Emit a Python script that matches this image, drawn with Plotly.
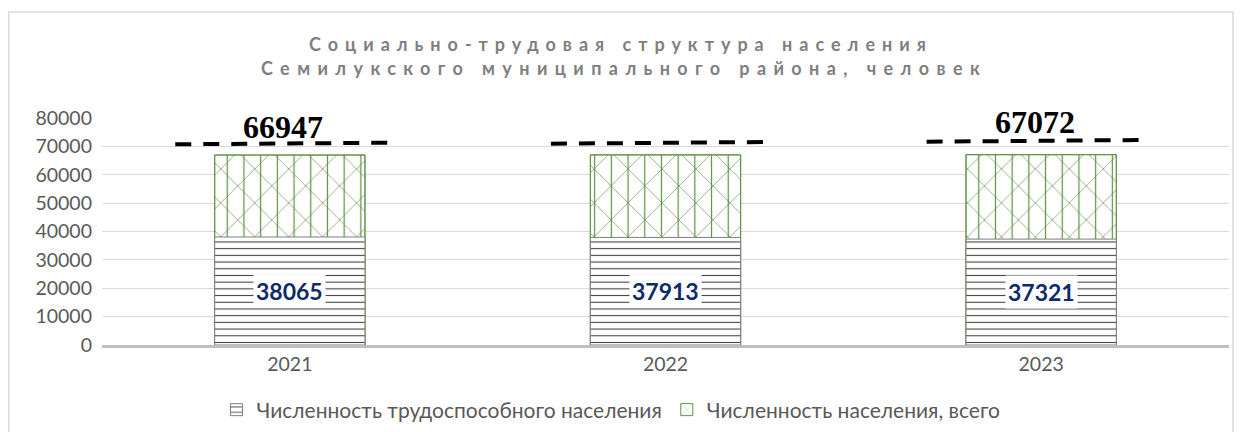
import plotly.graph_objects as go

years = ["2021", "2022", "2023"]
working_age = [38065, 37913, 37321]
total_pop = [66947, 67000, 67072]
total_labels = ["66947", "", "67072"]

# the page body adds an 8px margin, so the figure is drawn 8px in
OFF = 8
W, H = 1243 - OFF, 432 - OFF
def px_x(p):
    return (p - OFF) / W
def px_y(p):
    return 1 - (p - OFF) / H

FONT = "Lato"
GREEN = "#5F9346"
GRAY_TXT = "#595959"

fig = go.Figure()

fig.add_trace(go.Bar(
    x=years, y=total_pop, name="Численность населения, всего",
    width=0.4, legendrank=2,
    marker=dict(color="white", line=dict(color=GREEN, width=1),
                pattern=dict(shape="x", fgcolor=GREEN, bgcolor="white",
                             size=24, solidity=0.055, fillmode="replace")),
    hoverinfo="skip",
))
fig.add_trace(go.Bar(
    x=years, y=total_pop, name="_v", showlegend=False,
    width=0.4,
    marker=dict(color="rgba(0,0,0,0)", line=dict(color=GREEN, width=1),
                pattern=dict(shape="|", fgcolor=GREEN, bgcolor="rgba(0,0,0,0)",
                             size=16.7, solidity=0.075, fillmode="replace")),
    hoverinfo="skip",
))
fig.add_trace(go.Bar(
    x=years, y=working_age, name="Численность трудоспособного населения",
    width=0.4, legendrank=1,
    marker=dict(color="white", line=dict(color="#7f7f7f", width=1),
                pattern=dict(shape="-", fgcolor="#404040", bgcolor="white",
                             size=6.7, solidity=0.16, fillmode="replace")),
    hoverinfo="skip",
))

# value labels inside the working-age bars
for i, v in enumerate(working_age):
    fig.add_annotation(x=i, y=v / 2, xref="x", yref="y", text=str(v),
                       showarrow=False, bgcolor="white", borderpad=2,
                       font=dict(family=FONT, size=23, color="#0E2A6B", weight="bold"))

# dashed lines and total labels drawn above the bars
dash_levels = [(70731, 71295), (70943, 71542), (71648, 72247)]
for i, (y0, y1) in enumerate(dash_levels):
    fig.add_shape(type="line", xref="x", yref="y",
                  x0=i - 0.305, x1=i + 0.265, y0=y0, y1=y1,
                  line=dict(color="black", width=4, dash="16px,12px"))
label_levels = [76830, 78000, 78590]
for i, (lab, ly) in enumerate(zip(total_labels, label_levels)):
    if lab:
        fig.add_annotation(x=i - 0.017, y=ly, xref="x", yref="y", text=lab,
                           showarrow=False, yanchor="middle",
                           font=dict(family="Liberation Serif", size=32,
                                     color="black", weight="bold"))

# title
fig.add_annotation(x=px_x(621), y=px_y(44), xref="paper", yref="paper",
                   text='<span style="letter-spacing:7px">Социально-трудовая структура населения</span>',
                   showarrow=False, yanchor="middle",
                   font=dict(family=FONT, size=18, color="#7f7f7f", weight="bold"))
fig.add_annotation(x=px_x(624), y=px_y(68), xref="paper", yref="paper",
                   text='<span style="letter-spacing:7.4px">Семилукского муниципального района, человек</span>',
                   showarrow=False, yanchor="middle",
                   font=dict(family=FONT, size=18, color="#7f7f7f", weight="bold"))

# chart border
fig.add_shape(type="rect", xref="paper", yref="paper",
              x0=px_x(8.8), x1=px_x(1233), y0=-0.05, y1=px_y(12),
              line=dict(color="#d9d9d9", width=1.5), layer="below")

fig.update_layout(
    width=W, height=H,
    margin=dict(l=0, r=0, t=0, b=0),
    paper_bgcolor="white", plot_bgcolor="white",
    barmode="overlay",
    showlegend=True,
    legend=dict(orientation="h", x=px_x(611), xanchor="center", y=px_y(410), yanchor="middle",
                font=dict(family=FONT, size=21, color=GRAY_TXT),
                itemwidth=30, traceorder="normal"),
    xaxis=dict(type="category", domain=[px_x(102), px_x(1229)], range=[-0.5, 2.5],
               showline=True, linecolor="#bfbfbf", linewidth=2.5, ticks="",
               showgrid=False, automargin=False,
               tickfont=dict(family=FONT, size=19.5, color=GRAY_TXT)),
    yaxis=dict(domain=[px_y(345), px_y(118)], range=[0, 80000], dtick=10000,
               tickformat="d",
               showgrid=True, gridcolor="#d9d9d9", gridwidth=1, zeroline=False,
               showline=False, ticks="", automargin=False, ticklabelstandoff=9,
               tickfont=dict(family=FONT, size=19.5, color=GRAY_TXT)),
    font=dict(family=FONT),
)

fig.write_html("out.html")
